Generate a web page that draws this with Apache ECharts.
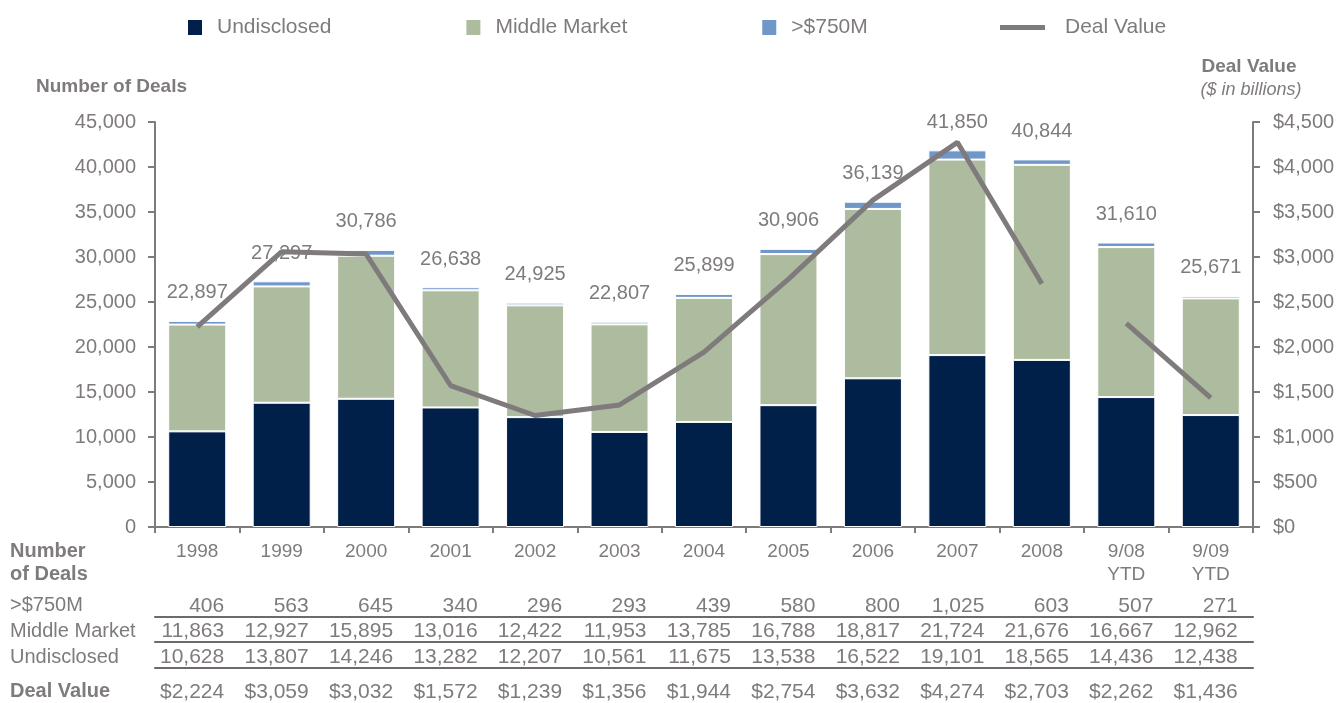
<!DOCTYPE html>
<html>
<head>
<meta charset="utf-8">
<script src="https://cdn.jsdelivr.net/npm/echarts@6/dist/echarts.min.js"></script>
<style>
  html, body { margin: 0; padding: 0; background: #fff; }
  #chart { width: 1341px; height: 703px; }
</style>
</head>
<body>
<div id="chart"></div>
<script>
    // chart data
    var years = ['1998', '1999', '2000', '2001', '2002', '2003', '2004', '2005', '2006', '2007', '2008', '9/08\nYTD', '9/09\nYTD'];
    var over750 = [406, 563, 645, 340, 296, 293, 439, 580, 800, 1025, 603, 507, 271];
    var middleMarket = [11863, 12927, 15895, 13016, 12422, 11953, 13785, 16788, 18817, 21724, 21676, 16667, 12962];
    var undisclosed = [10628, 13807, 14246, 13282, 12207, 10561, 11675, 13538, 16522, 19101, 18565, 14436, 12438];
    var dealValue = [2224, 3059, 3032, 1572, 1239, 1356, 1944, 2754, 3632, 4274, 2703, 2262, 1436];

    var grey = '#7f7b7c';
    var font = "'Liberation Sans', Arial, sans-serif";

    var totals = years.map(function (y, i) { return over750[i] + middleMarket[i] + undisclosed[i]; });
    function fmt(v) { return v.toLocaleString('en-US'); }

    // line is broken between 2008 and the YTD pair
    var dealFull = dealValue.map(function (v, i) { return i < 11 ? v : '-'; });
    var dealYtd = dealValue.map(function (v, i) { return i >= 11 ? v : '-'; });

    var chart = echarts.init(document.getElementById('chart'), null, {renderer: 'canvas'});

    // extra x axes below the grid carry the data table rows
    function tableAxis(offset, rowValues, prefix, showLine) {
        return {
            type: 'category',
            data: years,
            position: 'bottom',
            offset: offset,
            axisLine: {show: showLine, onZero: false, lineStyle: {color: '#6e6a6b', width: 2}},
            axisTick: {show: false},
            axisLabel: {
                inside: true,
                margin: 0,
                interval: 0,
                formatter: function (v, i) { return '{n|' + prefix + fmt(rowValues[i]) + '}'; },
                rich: {n: {width: 70, padding: [0, 16, 0, 0], align: 'right', color: grey, fontSize: 21, fontFamily: font}}
            }
        };
    }

    var option = {
        animation: false,
        textStyle: {fontFamily: font},
        grid: {left: 155, right: 88, top: 122, bottom: 175},
        legend: [{
            left: 186, top: 17, padding: 0,
            icon: 'rect',
            itemWidth: 16, itemHeight: 17, itemGap: 133,
            textStyle: {color: grey, fontSize: 21, padding: [0, 0, 0, 9]},
            data: ['Undisclosed', 'Middle Market', '>$750M']
        }, {
            left: 1000, top: 17, padding: 0,
            itemWidth: 45, itemHeight: 5,
            icon: 'rect',
            textStyle: {color: grey, fontSize: 21, padding: [0, 0, 0, 15]},
            data: ['Deal Value']
        }],
        xAxis: [{
            type: 'category',
            data: years,
            axisLine: {lineStyle: {color: grey, width: 2}},
            axisTick: {show: true, length: 6, lineStyle: {color: grey, width: 2}},
            axisLabel: {color: grey, fontSize: 19, margin: 13, lineHeight: 23, interval: 0}
        },
            tableAxis(90, over750, '', true),
            tableAxis(115, middleMarket, '', true),
            tableAxis(141, undisclosed, '', true),
            tableAxis(176, dealValue, '$', false)
        ],
        yAxis: [{
            type: 'value', min: 0, max: 45000, interval: 5000,
            axisLine: {show: true, lineStyle: {color: grey, width: 2}},
            axisTick: {show: true, length: 7, lineStyle: {color: grey, width: 2}},
            splitLine: {show: false},
            axisLabel: {color: grey, fontSize: 20, margin: 19, formatter: function (v) { return fmt(v); }}
        }, {
            type: 'value', min: 0, max: 4500, interval: 500,
            axisLine: {show: true, lineStyle: {color: grey, width: 2}},
            axisTick: {show: true, length: 7, lineStyle: {color: grey, width: 2}},
            splitLine: {show: false},
            axisLabel: {color: grey, fontSize: 20, margin: 20, formatter: function (v) { return '$' + fmt(v); }}
        }],
        series: [{
            name: 'Undisclosed', type: 'bar', stack: 'deals', barWidth: 58,
            itemStyle: {color: '#00204a', borderColor: '#fff', borderWidth: 1},
            data: undisclosed
        }, {
            name: 'Middle Market', type: 'bar', stack: 'deals',
            itemStyle: {color: '#adbc9e', borderColor: '#fff', borderWidth: 1},
            data: middleMarket
        }, {
            name: '>$750M', type: 'bar', stack: 'deals',
            itemStyle: {color: '#6f97c9', borderColor: '#fff', borderWidth: 1},
            label: {
                show: true, position: 'top', distance: 18,
                color: grey, fontSize: 20,
                formatter: function (p) { return fmt(totals[p.dataIndex]); }
            },
            data: over750
        }, {
            name: 'Deal Value', type: 'line', yAxisIndex: 1,
            symbol: 'none', z: 5,
            lineStyle: {color: grey, width: 5},
            itemStyle: {color: grey},
            data: dealFull
        }, {
            name: 'Deal Value', type: 'line', yAxisIndex: 1,
            symbol: 'none', z: 5,
            lineStyle: {color: grey, width: 5},
            itemStyle: {color: grey},
            data: dealYtd
        }],
        graphic: [
            {type: 'text', x: 36, y: 87, style: {text: 'Number of Deals', fill: grey, font: 'bold 19px ' + font, verticalAlign: 'middle'}},
            {type: 'text', x: 1249, y: 67, style: {text: 'Deal Value', fill: grey, font: 'bold 19px ' + font, align: 'center', verticalAlign: 'middle'}},
            {type: 'text', x: 1251, y: 90, style: {text: '($ in billions)', fill: grey, font: 'italic 18px ' + font, align: 'center', verticalAlign: 'middle'}},
            {type: 'text', x: 10, y: 551, style: {text: 'Number', fill: grey, font: 'bold 20px ' + font, verticalAlign: 'middle'}},
            {type: 'text', x: 10, y: 574, style: {text: 'of Deals', fill: grey, font: 'bold 20px ' + font, verticalAlign: 'middle'}},
            {type: 'text', x: 10, y: 605, style: {text: '>$750M', fill: grey, font: '20px ' + font, verticalAlign: 'middle'}},
            {type: 'text', x: 10, y: 631, style: {text: 'Middle Market', fill: grey, font: '20px ' + font, verticalAlign: 'middle'}},
            {type: 'text', x: 10, y: 657, style: {text: 'Undisclosed', fill: grey, font: '20px ' + font, verticalAlign: 'middle'}},
            {type: 'text', x: 10, y: 691, style: {text: 'Deal Value', fill: grey, font: 'bold 20px ' + font, verticalAlign: 'middle'}}
        ]
    };

    chart.setOption(option);
</script>
</body>
</html>
